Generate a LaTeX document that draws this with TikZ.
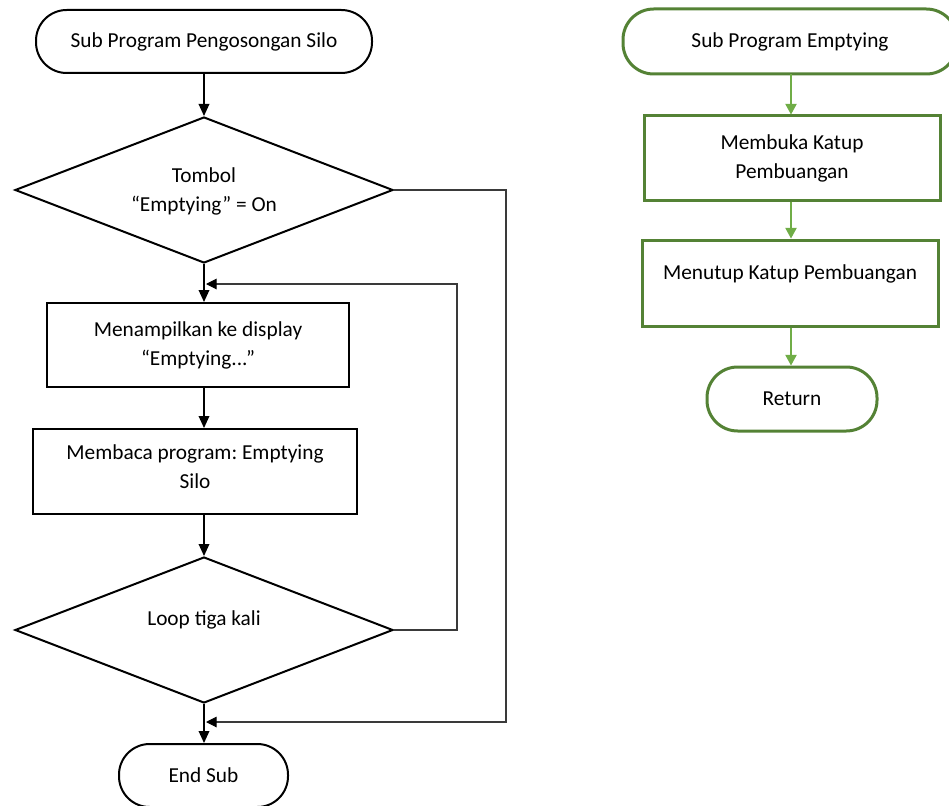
\documentclass[tikz,border=0pt]{standalone}
\usepackage{fontspec}
\setmainfont{Carlito}
\usetikzlibrary{arrows.meta,shapes.geometric}
\definecolor{gdark}{HTML}{548235}
\definecolor{glight}{HTML}{70AD47}
\definecolor{lgrey}{HTML}{3A3A3A}
\frenchspacing
\begin{document}
\begin{tikzpicture}[x=0.75pt,y=-0.75pt,
  every node/.style={font=\fontsize{16}{21.75}\selectfont, inner sep=0pt, align=center},
  txtl/.style={font=\fontsize{16}{21.75}\selectfont, inner sep=0pt, align=center},
  bterm/.style={draw=black, line width=1.5pt, rectangle, rounded corners=23pt, minimum width=252pt, minimum height=47.25pt},
  bbox/.style={draw=black, line width=1.5pt, rectangle, minimum width=226.5pt, minimum height=63pt},
  bdia/.style={draw=black, line width=1.5pt, diamond, aspect=2.59, minimum width=283.5pt, minimum height=109.5pt},
  gterm/.style={draw=gdark, line width=2.25pt, rectangle, rounded corners=23pt, minimum width=250.5pt, minimum height=48.75pt},
  gbox/.style={draw=gdark, line width=2.25pt, rectangle, minimum width=222pt, minimum height=63pt},
  barrow/.style={draw=black, line width=1pt, -{Triangle[length=9pt,width=8pt]}},
  larrow/.style={draw=lgrey, line width=0.8pt, -{Triangle[length=8pt,width=8pt,fill=black,color=black]}},
  garrow/.style={draw=glight, line width=1pt, -{Triangle[length=8pt,width=8.5pt]}}
]
\useasboundingbox (0,0) rectangle (949,806);
\clip (0,0) rectangle (949,806);

% left flowchart
\node[bterm] (s1) at (204,41.5) {Sub Program Pengosongan Silo};
\node[bdia, label={[txtl,yshift=-0.75pt]center:Tombol\\“Emptying” = On}] (d1) at (204,190) {};
\node[bbox] (b1) at (198,345) {Menampilkan ke display\\“Emptying...”};
\node[bbox, minimum width=243pt, minimum height=63.75pt,
      label={[txtl,yshift=3.75pt]center:Membaca program: Emptying\\Silo}] (b2) at (195,471.5) {};
\node[bdia, label={[txtl,yshift=7.5pt]center:Loop tiga kali}] (d2) at (204,630) {};
\node[bterm, minimum width=126.75pt] (e1) at (203.5,775.5) {End Sub};

\coordinate (j1) at (206,284);
\coordinate (j2) at (206,722);

\draw[barrow] (s1.south) -- (d1.north);
\draw[barrow] (d1.south) -- (d1.south |- b1.north);
\draw[barrow] (d1.south |- b1.south) -- (d1.south |- b2.north);
\draw[barrow] (d1.south |- b2.south) -- (d2.north);
\draw[barrow] (d2.south) -- (d2.south |- e1.north);
\draw[larrow] (d2.east) -- ++(63,0) |- (j1);
\draw[larrow] (d1.east) -- ++(112,0) |- (j2);

% right flowchart
\node[gterm] (gs) at (790,41.5) {Sub Program Emptying};
\node[gbox] (g1) at (792,158) {Membuka Katup\\Pembuangan};
\node[gbox, minimum height=64.5pt,
      label={[txtl,yshift=6.75pt]center:Menutup Katup Pembuangan}] (g2) at (790,283) {};
\node[gterm, minimum width=127.5pt, minimum height=48pt] (gr) at (792,399) {Return};

\draw[garrow] (791,74) coordinate (ga) -- (ga |- g1.north);
\draw[garrow] (ga |- g1.south) -- (ga |- g2.north);
\draw[garrow] (ga |- g2.south) -- (ga |- gr.north);
\end{tikzpicture}
\end{document}
